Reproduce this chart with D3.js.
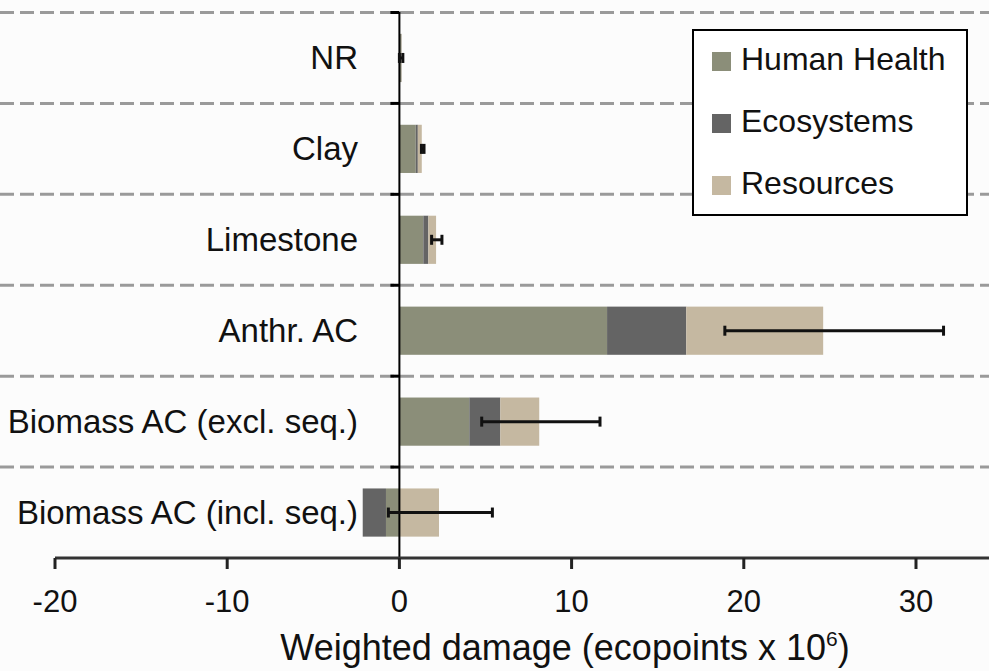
<!DOCTYPE html>
<head>
  <meta charset="utf-8" />
  <script src="https://d3js.org/d3.v7.min.js"></script>
  <style>
    body { margin: 0; background: #fcfcfc; }
    text { font-family: "Liberation Sans", Arial, sans-serif; fill: #111; }
  </style>
</head>
<body>
  <div id="chart"></div>
  <script>
    // donnees (ecopoints x 10^6)
    const categories = ["NR", "Clay", "Limestone", "Anthr. AC", "Biomass AC (excl. seq.)", "Biomass AC (incl. seq.)"];
    const humanHealth = [0.1, 0.95, 1.39, 12.06, 4.06, -0.78];
    const ecosystems = [0.02, 0.12, 0.29, 4.6, 1.8, -1.35];
    const resources = [0.02, 0.23, 0.45, 7.95, 2.26, 2.3];
    const errLow = [0.0, 1.28, 1.87, 18.9, 4.78, -0.64];
    const errHigh = [0.2, 1.43, 2.47, 31.6, 11.65, 5.4];
    const xTicks = [-20, -10, 0, 10, 20, 30];
    const seriesNames = ["Human Health", "Ecosystems", "Resources"];
    const seriesKeys = ["hh", "eco", "res"];
    const colors = ["#8b8e79", "#646464", "#c5b8a1"];

    const width = 989, height = 671;

    const svg = d3.select("#chart").append("svg")
      .attr("width", width)
      .attr("height", height);

    svg.append("rect").attr("width", width).attr("height", height).attr("fill", "#fcfcfc");

    const rows = categories.map(function (c, i) {
      return { cat: c, hh: humanHealth[i], eco: ecosystems[i], res: resources[i], lo: errLow[i], hi: errHigh[i] };
    });

    const x = d3.scaleLinear().domain([-20, 34.24]).range([55, 989]);
    const y = d3.scaleBand().domain(categories).range([12.5, 558]).paddingInner(0.47).paddingOuter(0.235);
    const step = y.step();
    const color = d3.scaleOrdinal().domain(seriesKeys).range(colors);

    // limite haute de chaque bande
    function bandTop(d) {
      return y(d) - (step - y.bandwidth()) / 2;
    }

    // lignes pointillees entre categories
    svg.append("g").selectAll("line")
      .data(categories)
      .join("line")
      .attr("x1", 0).attr("x2", width)
      .attr("y1", bandTop)
      .attr("y2", bandTop)
      .attr("stroke", "#9a9a9a")
      .attr("stroke-width", 3)
      .attr("stroke-dasharray", "14,6");

    // barres empilees
    const stack = d3.stack().keys(seriesKeys).offset(d3.stackOffsetDiverging);
    const series = stack(rows);

    svg.append("g").selectAll("g")
      .data(series)
      .join("g")
      .attr("fill", function (d) { return color(d.key); })
      .selectAll("rect")
      .data(function (d) { return d; })
      .join("rect")
      .attr("x", function (d) { return x(Math.min(d[0], d[1])); })
      .attr("width", function (d) { return Math.abs(x(d[1]) - x(d[0])); })
      .attr("y", function (d) { return y(d.data.cat); })
      .attr("height", y.bandwidth());

    // axe y (ligne verticale a zero)
    const yAxis = svg.append("g").attr("transform", "translate(" + x(0) + ",0)");
    yAxis.append("line")
      .attr("y1", 12).attr("y2", 558)
      .attr("stroke", "#000").attr("stroke-width", 2);
    yAxis.selectAll(".yt")
      .data(categories)
      .join("line")
      .attr("class", "yt")
      .attr("x1", -9).attr("x2", 0)
      .attr("y1", bandTop)
      .attr("y2", bandTop)
      .attr("stroke", "#000").attr("stroke-width", 3);

    // barres d'erreur
    const err = svg.append("g").attr("stroke", "#111").attr("stroke-width", 3);
    err.selectAll(".eb")
      .data(rows)
      .join("line")
      .attr("x1", function (d) { return x(d.lo); })
      .attr("x2", function (d) { return x(d.hi); })
      .attr("y1", function (d) { return y(d.cat) + y.bandwidth() / 2; })
      .attr("y2", function (d) { return y(d.cat) + y.bandwidth() / 2; });
    err.selectAll(".cap")
      .data(rows.flatMap(function (d) { return [{ cat: d.cat, v: d.lo }, { cat: d.cat, v: d.hi }]; }))
      .join("line")
      .attr("x1", function (d) { return x(d.v); })
      .attr("x2", function (d) { return x(d.v); })
      .attr("y1", function (d) { return y(d.cat) + y.bandwidth() / 2 - 5; })
      .attr("y2", function (d) { return y(d.cat) + y.bandwidth() / 2 + 5; });

    // libelles des categories
    svg.append("g").selectAll("text")
      .data(categories)
      .join("text")
      .attr("x", 358)
      .attr("y", function (d) { return y(d) + y.bandwidth() / 2; })
      .attr("dy", "0.34em")
      .attr("text-anchor", "end")
      .style("font-size", "33px")
      .text(function (d) { return d; });

    // axe x
    const xAxis = svg.append("g").attr("transform", "translate(0,558)");
    xAxis.append("line")
      .attr("x1", 55).attr("x2", width)
      .attr("stroke", "#333").attr("stroke-width", 3);
    xAxis.selectAll(".xt")
      .data(xTicks)
      .join("line")
      .attr("x1", function (d) { return x(d); })
      .attr("x2", function (d) { return x(d); })
      .attr("y1", 0).attr("y2", 11)
      .attr("stroke", "#222").attr("stroke-width", 3);
    xAxis.selectAll("text")
      .data(xTicks)
      .join("text")
      .attr("x", function (d) { return x(d); })
      .attr("y", 54)
      .attr("text-anchor", "middle")
      .style("font-size", "31px")
      .text(function (d) { return d; });

    const title = svg.append("text")
      .attr("x", 565)
      .attr("y", 660)
      .attr("text-anchor", "middle")
      .style("font-size", "36px");
    title.append("tspan").text("Weighted damage (ecopoints x 10");
    title.append("tspan").attr("dy", -14).style("font-size", "21px").text("6");
    title.append("tspan").attr("dy", 14).text(")");

    // legende
    const legend = svg.append("g");
    legend.append("rect")
      .attr("x", 693).attr("y", 30)
      .attr("width", 274).attr("height", 185)
      .attr("fill", "#fff")
      .attr("stroke", "#000").attr("stroke-width", 2);
    const items = legend.selectAll("g")
      .data(seriesNames)
      .join("g")
      .attr("transform", function (d, i) { return "translate(712," + (61.5 + i * 62) + ")"; });
    items.append("rect")
      .attr("y", -9.5).attr("width", 19).attr("height", 19)
      .attr("fill", function (d, i) { return colors[i]; });
    items.append("text")
      .attr("x", 29)
      .attr("dy", "0.28em")
      .style("font-size", "32px")
      .text(function (d) { return d; });
  </script>
</body>
